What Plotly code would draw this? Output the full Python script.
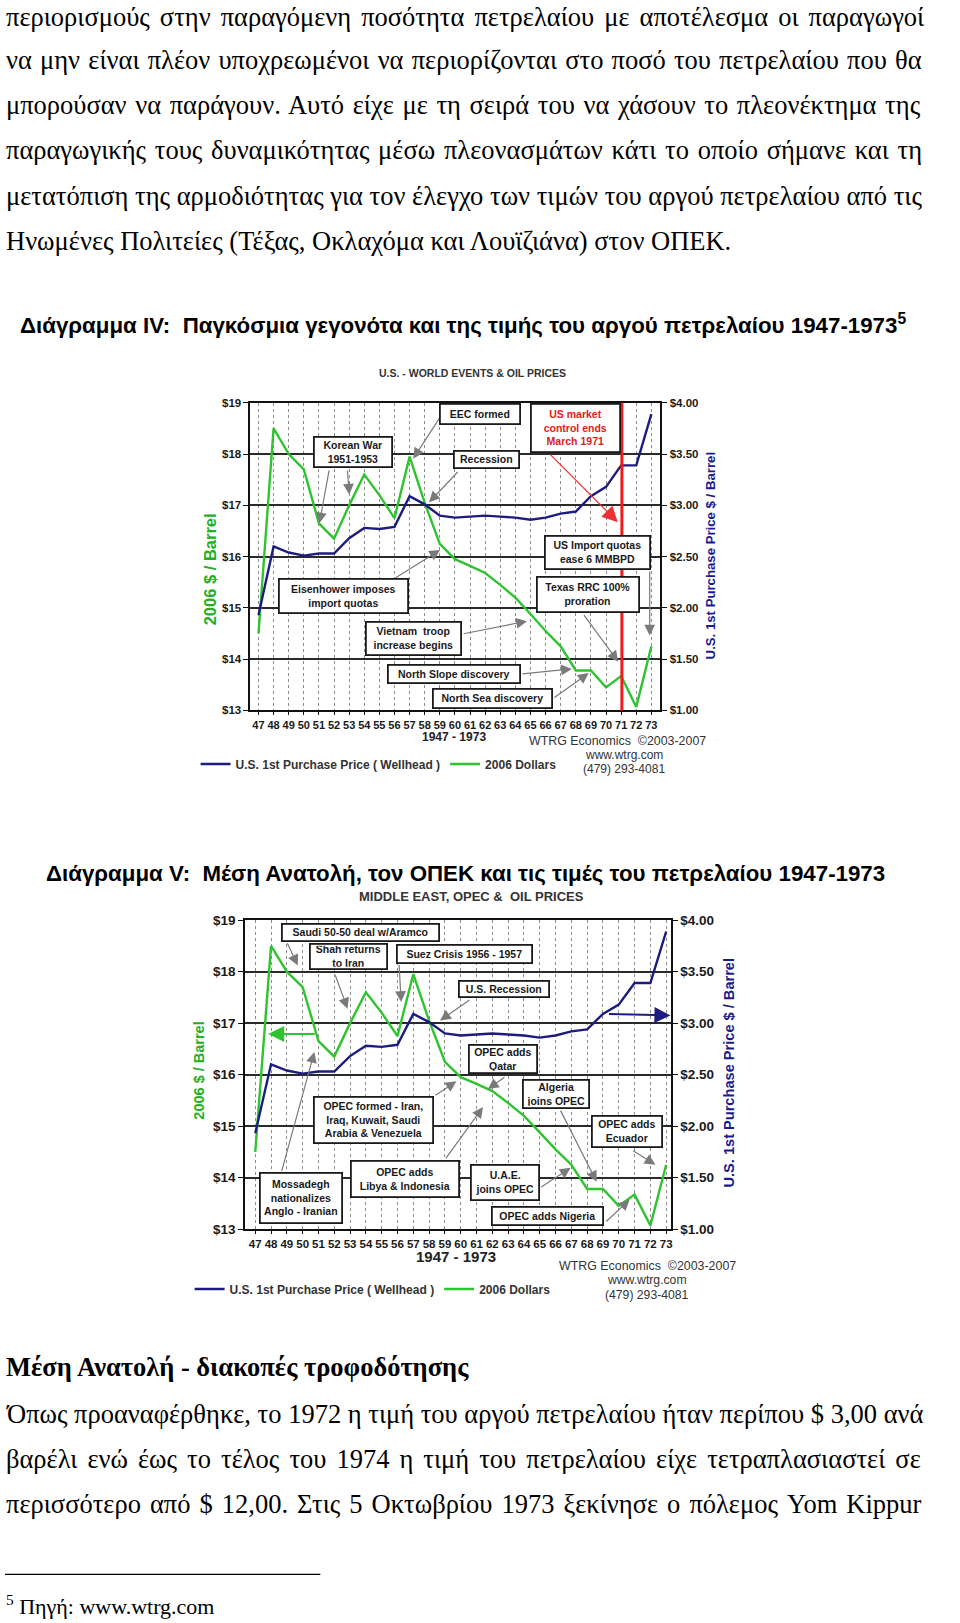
import plotly.graph_objects as go

W, H = 960, 1623
def PX(x): return x / W
def PY(y): return 1 - y / H

# ---------------- data ----------------
years = list(range(1947, 1974))
year_labels = [str(y % 100) for y in years]
price_2006 = [14.5, 18.5, 18.0, 17.7, 16.65, 16.35, 17.0, 17.6, 17.2, 16.75,
              17.95, 17.05, 16.25, 15.95, 15.82, 15.68, 15.45, 15.2, 14.88, 14.55,
              14.25, 13.78, 13.78, 13.45, 13.67, 13.07, 14.25]
price_wellhead = [1.93, 2.60, 2.54, 2.51, 2.53, 2.53, 2.68, 2.78, 2.77, 2.79,
                  3.09, 3.01, 2.90, 2.88, 2.89, 2.90, 2.89, 2.88, 2.86, 2.88,
                  2.92, 2.94, 3.09, 3.18, 3.39, 3.39, 3.89]
left_ticks = [13, 14, 15, 16, 17, 18, 19]
left_labels = ["$%d" % v for v in left_ticks]
right_ticks = [1.0, 1.5, 2.0, 2.5, 3.0, 3.5, 4.0]
right_labels = ["$%.2f" % v for v in right_ticks]
market_control_end = 1971.05

series_names = ["U.S. 1st Purchase Price ( Wellhead )", "2006 Dollars"]

events_1 = ["EEC formed", "US market<br>control ends<br>March 1971", "Korean War<br>1951-1953",
            "Recession", "US Import quotas<br>ease 6 MMBPD", "Texas RRC 100%<br>proration",
            "Eisenhower imposes<br>import quotas", "Vietnam  troop<br>increase begins",
            "North Slope discovery", "North Sea discovery"]
events_2 = ["Saudi 50-50 deal w/Aramco", "Shah returns<br>to Iran", "Suez Crisis 1956 - 1957",
            "U.S. Recession", "OPEC adds<br>Qatar", "Algeria<br>joins OPEC",
            "OPEC formed - Iran,<br>Iraq, Kuwait, Saudi<br>Arabia & Venezuela",
            "Mossadegh<br>nationalizes<br>Anglo - Iranian", "OPEC adds<br>Libya & Indonesia",
            "U.A.E.<br>joins OPEC", "OPEC adds Nigeria", "OPEC adds<br>Ecuador"]

top_lines = [
    "περιορισμούς στην παραγόμενη ποσότητα πετρελαίου με αποτέλεσμα οι παραγωγοί",
    "να μην είναι πλέον υποχρεωμένοι να περιορίζονται στο ποσό του πετρελαίου που θα",
    "μπορούσαν να παράγουν. Αυτό είχε με τη σειρά του να χάσουν το πλεονέκτημα της",
    "παραγωγικής τους δυναμικότητας μέσω πλεονασμάτων κάτι το οποίο σήμανε και τη",
    "μετατόπιση της αρμοδιότητας για τον έλεγχο των τιμών του αργού πετρελαίου από τις",
    "Ηνωμένες Πολιτείες (Τέξας, Οκλαχόμα και Λουϊζιάνα) στον ΟΠΕΚ.",
]
heading_4 = "Διάγραμμα IV:  Παγκόσμια γεγονότα και της τιμής του αργού πετρελαίου 1947-1973<sup>5</sup>"
heading_5 = "Διάγραμμα V:  Μέση Ανατολή, τον ΟΠΕΚ και τις τιμές του πετρελαίου 1947-1973"
section_title = "Μέση Ανατολή - διακοπές τροφοδότησης"
bottom_lines = [
    "Όπως προαναφέρθηκε, το 1972 η τιμή του αργού πετρελαίου ήταν περίπου $ 3,00 ανά",
    "βαρέλι ενώ έως το τέλος του 1974 η τιμή του πετρελαίου είχε τετραπλασιαστεί σε",
    "περισσότερο από $ 12,00. Στις 5 Οκτωβρίου 1973 ξεκίνησε ο πόλεμος Yom Kippur",
]
footnote = "<sup>5</sup> Πηγή: www.wtrg.com"

# ---------------- styles ----------------
GREEN = "#2fc42f"
NAVY = "#1c1c80"
SANS = "Liberation Sans, Arial, sans-serif"
SERIF = "Liberation Serif, Times New Roman, serif"

fig = go.Figure()
fig.add_trace(go.Scatter(x=years, y=price_wellhead, xaxis="x", yaxis="y2", mode="lines",
                         name=series_names[0], line=dict(color=NAVY, width=2.4), legend="legend"))
fig.add_trace(go.Scatter(x=years, y=price_2006, xaxis="x", yaxis="y", mode="lines",
                         name=series_names[1], line=dict(color=GREEN, width=2.4), legend="legend"))
fig.add_trace(go.Scatter(x=years, y=price_wellhead, xaxis="x2", yaxis="y4", mode="lines",
                         name=series_names[0], line=dict(color=NAVY, width=2.4), legend="legend2"))
fig.add_trace(go.Scatter(x=years, y=price_2006, xaxis="x2", yaxis="y3", mode="lines",
                         name=series_names[1], line=dict(color=GREEN, width=2.4), legend="legend2"))


def xax(domain, rng, anchor, fsize):
    return dict(domain=domain, range=rng, anchor=anchor, tickmode="array", tickvals=years,
                ticktext=year_labels, tickangle=0, showgrid=True, gridcolor="#8c8c8c",
                griddash="dot", gridwidth=1, showline=True, mirror=True, linecolor="#111",
                linewidth=2, ticks="outside", ticklen=3, tickcolor="#111", zeroline=False,
                tickfont=dict(family=SANS, size=fsize, color="#1a1a1a", weight="bold"))


def yleft(domain, anchor, fsize):
    return dict(domain=domain, range=[13, 19], anchor=anchor, tickmode="array", tickvals=left_ticks,
                ticktext=left_labels, showgrid=True, gridcolor="#2a2a2a", gridwidth=1.8,
                showline=True, linecolor="#111", linewidth=2, ticks="outside", ticklen=5,
                tickcolor="#111", zeroline=False,
                tickfont=dict(family=SANS, size=fsize, color="#1a1a1a", weight="bold"))


def yright(overlay, anchor, fsize):
    return dict(overlaying=overlay, side="right", anchor=anchor, range=[1, 4], tickmode="array",
                tickvals=right_ticks, ticktext=right_labels, showgrid=False,
                showline=True, linecolor="#111", linewidth=2, ticks="outside", ticklen=5,
                tickcolor="#111", zeroline=False,
                tickfont=dict(family=SANS, size=fsize, color="#1a1a1a", weight="bold"))


ann = []


def txt(text, x, y, size, family=SERIF, bold=False, color="#000", xanchor="left", angle=0, ws=0):
    if ws:
        text = '<span style="word-spacing:%.2fpx">%s</span>' % (ws, text)
    ann.append(dict(text=text, x=PX(x), y=PY(y), xref="paper", yref="paper", showarrow=False,
                    xanchor=xanchor, yanchor="middle", textangle=angle,
                    font=dict(family=family, size=size, color=color,
                              weight="bold" if bold else "normal")))


# body text
BODY = 26.5
top_y = [10, 53, 98.6, 144.5, 190.5, 236.3]
top_ws = [3.4, 1.55, 2.0, 2.1, 0, 0]
for line, yy, ws in zip(top_lines, top_y, top_ws):
    txt(line, 4, yy, BODY, ws=ws)
txt(heading_4, 18, 319.8, 22.3, family=SANS, bold=True)
txt(heading_5, 44, 875, 22.3, family=SANS, bold=True)
txt(section_title, 4, 1373, BODY, bold=True)
for line, yy, ws in zip(bottom_lines, [1420, 1465.4, 1511.1], [0, 3.4, 2.4]):
    txt(line, 4, yy, BODY, ws=ws)
txt(footnote, 4, 1613, 22)

# chart titles and extra text
txt("U.S. - WORLD EVENTS & OIL PRICES", 473, 369, 10.5, family=SANS, bold=True, color="#333", xanchor="center")
txt("MIDDLE EAST, OPEC &  OIL PRICES", 472, 898, 13, family=SANS, bold=True, color="#333", xanchor="center")
txt("2006 $ / Barrel", 210, 568, 16.5, family=SANS, bold=True, color="#22b022", xanchor="center", angle=-90)
txt("U.S. 1st Purchase Price $ / Barrel", 712, 554, 13.2, family=SANS, bold=True, color="#1b1b90", xanchor="center", angle=-90)
txt("2006 $ / Barrel", 199, 1074, 14.5, family=SANS, bold=True, color="#22b022", xanchor="center", angle=-90)
txt("U.S. 1st Purchase Price $ / Barrel", 731, 1075, 14.6, family=SANS, bold=True, color="#1b1b90", xanchor="center", angle=-90)
txt("1947 - 1973", 455, 737, 12, family=SANS, bold=True, color="#222", xanchor="center")
txt("1947 - 1973", 457, 1261, 15, family=SANS, bold=True, color="#222", xanchor="center")
txt("WTRG Economics  ©2003-2007", 619, 741, 12.4, family=SANS, color="#333", xanchor="center")
txt("www.wtrg.com", 625, 755, 12, family=SANS, color="#333", xanchor="center")
txt("(479) 293-4081", 625, 769, 12, family=SANS, color="#333", xanchor="center")
txt("WTRG Economics  ©2003-2007", 649, 1271, 12.4, family=SANS, color="#333", xanchor="center")
txt("www.wtrg.com", 648, 1285, 12.2, family=SANS, color="#333", xanchor="center")
txt("(479) 293-4081", 648, 1300, 12.2, family=SANS, color="#333", xanchor="center")

# arrows (tail -> head), chart 1
arrows_1 = [(1959.02, 18.72, 1957.24, 17.91), (1951.69, 17.71, 1951.03, 16.65),
            (1952.88, 17.71, 1953.01, 17.21), (1960.28, 17.68, 1958.29, 17.06),
            (1972.89, 15.74, 1972.89, 14.46), (1968.47, 14.89, 1970.8, 13.95),
            (1955.98, 15.57, 1959.02, 16.13), (1960.47, 14.49, 1964.77, 14.74),
            (1964.37, 13.71, 1967.74, 13.81), (1966.48, 13.23, 1968.86, 13.73)]
for tx, ty, hx, hy in arrows_1:
    ann.append(dict(x=hx, y=hy, ax=tx, ay=ty, xref="x", yref="y", axref="x", ayref="y", text="",
                    showarrow=True, arrowhead=2, arrowsize=1.8, arrowwidth=1.2, arrowcolor="#7a7a7a"))
ann.append(dict(x=1970.78, y=16.67, ax=1966.22, ay=18.02, xref="x", yref="y", axref="x", ayref="y",
                text="", showarrow=True, arrowhead=2, arrowsize=2.6, arrowwidth=1.2, arrowcolor="#ee3030"))

arrows_2 = [(1948.99, 18.58, 1949.69, 18.12), (1952.03, 17.96, 1952.84, 17.28),
            (1956.1, 18.16, 1956.23, 17.41), (1960.65, 17.47, 1958.69, 17.05),
            (1962.86, 15.97, 1961.72, 15.72), (1966.27, 15.33, 1968.6, 13.92),
            (1958.31, 15.58, 1959.73, 15.87), (1948.65, 14.10, 1950.74, 16.44),
            (1959.0, 14.35, 1961.41, 15.37), (1965.0, 13.80, 1966.96, 14.19),
            (1969.11, 13.12, 1970.69, 13.57), (1970.81, 14.54, 1972.32, 14.25)]
for tx, ty, hx, hy in arrows_2:
    ann.append(dict(x=hx, y=hy, ax=tx, ay=ty, xref="x2", yref="y3", axref="x2", ayref="y3", text="",
                    showarrow=True, arrowhead=2, arrowsize=1.8, arrowwidth=1.2, arrowcolor="#7a7a7a"))
ann.append(dict(x=1973.27, y=17.15, ax=1969.29, ay=17.18, xref="x2", yref="y3", axref="x2", ayref="y3",
                text="", showarrow=True, arrowhead=2, arrowsize=1.6, arrowwidth=2, arrowcolor=NAVY))
ann.append(dict(x=1947.82, y=16.79, ax=1950.86, ay=16.79, xref="x2", yref="y3", axref="x2", ayref="y3",
                text="", showarrow=True, arrowhead=2, arrowsize=1.6, arrowwidth=2, arrowcolor=GREEN))

# event boxes (center x, center y, width, height)
boxes_1 = [(1961.66, 18.78, 82, 22), (1968.0, 18.51, 91, 50), (1953.25, 18.04, 80, 32),
           (1962.06, 17.89, 67, 19), (1969.46, 16.08, 107, 35), (1968.8, 15.26, 104, 37),
           (1952.65, 15.23, 131, 36), (1957.24, 14.40, 97, 35), (1959.95, 13.71, 134, 20),
           (1962.48, 13.24, 121, 21)]
for i, (text, (bx, by, bw, bh)) in enumerate(zip(events_1, boxes_1)):
    ann.append(dict(text=text, x=bx, y=by, xref="x", yref="y", showarrow=False,
                    width=bw - 6, height=bh - 6, bgcolor="white", bordercolor="#1a1a1a",
                    borderwidth=1.8, borderpad=1,
                    font=dict(family=SANS, size=10.5, weight="bold",
                              color="#e02020" if i == 1 else "#1a1a1a")))
boxes_2 = [(1953.64, 18.76, 159, 19), (1952.92, 18.29, 79, 27), (1960.21, 18.35, 137, 20),
           (1962.76, 17.66, 92, 18), (1962.65, 16.30, 70, 30), (1966.02, 15.62, 68, 30),
           (1954.5, 15.11, 121, 48), (1949.9, 13.6, 84, 52), (1956.45, 13.98, 110, 38),
           (1962.8, 13.90, 70, 37), (1965.51, 13.25, 113, 20), (1970.53, 14.90, 72, 33)]
for text, (bx, by, bw, bh) in zip(events_2, boxes_2):
    ann.append(dict(text=text, x=bx, y=by, xref="x2", yref="y3", showarrow=False,
                    width=bw - 6, height=bh - 6, bgcolor="white", bordercolor="#1a1a1a",
                    borderwidth=1.8, borderpad=1,
                    font=dict(family=SANS, size=10.5, weight="bold", color="#1a1a1a")))

shapes = [
    dict(type="line", xref="x", yref="y domain", x0=market_control_end, x1=market_control_end,
         y0=0, y1=1, line=dict(color="#ee1c1c", width=3)),
    dict(type="line", xref="paper", yref="paper", x0=PX(5), x1=PX(321), y0=PY(1582), y1=PY(1582),
         line=dict(color="#000", width=1.2)),
]

fig.update_layout(
    width=W, height=H, margin=dict(l=0, r=0, t=0, b=0), autosize=False,
    paper_bgcolor="white", plot_bgcolor="white",
    xaxis=xax([PX(251), PX(661.8)], [1946.47, 1973.6], "y", 11),
    yaxis=yleft([PY(710), PY(399.5)], "x", 11.5),
    yaxis2=yright("y", "x", 11.5),
    xaxis2=xax([PX(245.8), PX(672)], [1946.37, 1973.28], "y3", 11.5),
    yaxis3=yleft([PY(1233.5), PY(921.7)], "x2", 13.5),
    yaxis4=yright("y3", "x2", 13.5),
    legend=dict(x=PX(196), y=PY(764), xanchor="left", yanchor="middle", orientation="h",
                itemwidth=30, bgcolor="rgba(0,0,0,0)",
                font=dict(family=SANS, size=12, color="#333", weight="bold")),
    legend2=dict(x=PX(190), y=PY(1294), xanchor="left", yanchor="middle", orientation="h",
                 itemwidth=30, bgcolor="rgba(0,0,0,0)",
                 font=dict(family=SANS, size=12, color="#333", weight="bold")),
    annotations=ann, shapes=shapes,
)

fig.write_html("out.html")
